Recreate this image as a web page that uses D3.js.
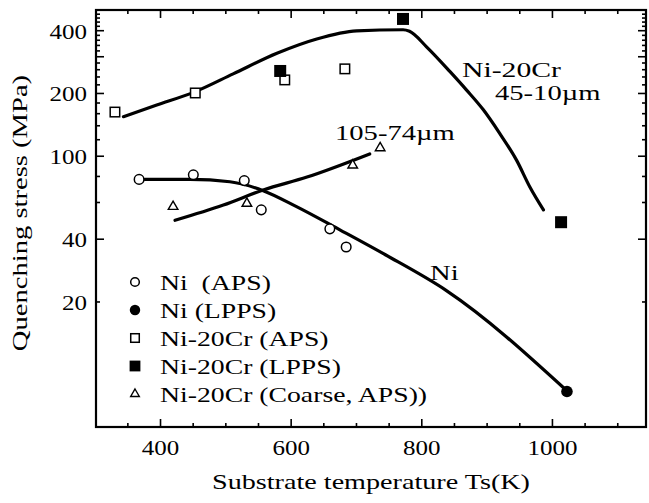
<!DOCTYPE html>
<html><head><meta charset="utf-8">
<script src="https://cdn.jsdelivr.net/npm/d3@7"></script>
<style>
body{margin:0;background:#fff}
svg{display:block}
text{font-family:"Liberation Serif","Times New Roman",serif;fill:#000}
</style>
</head><body>
<svg id="c" width="649" height="503"></svg>
<script>
// ---- data (temperature K, stress MPa) ----
const niAPS_T = [368, 451, 529, 555, 660, 685];
const niAPS_S = [77, 81, 76, 55, 44.6, 36.5];
const niLPPS_T = [1023];
const niLPPS_S = [7.4];
const crAPS_T = [331, 454, 591, 683];
const crAPS_S = [162, 200, 231, 261];
const crLPPS_T = [584, 772, 1014];
const crLPPS_S = [255, 453, 48];
const coarse_T = [420, 533, 695, 737];
const coarse_S = [57, 59, 90, 109];
// hand-drawn trend curves
const crFine_T = [344, 395, 454, 512, 579, 640, 701, 772, 782, 808, 844, 869, 895, 920, 946, 966, 987];
const crFine_S = [154, 175, 203, 247, 310, 363, 397, 402, 395, 333, 253, 207, 166, 128, 95, 71, 55];
const ni_T = [377, 446, 507, 558, 609, 676, 745, 839, 1022];
const ni_S = [77, 77, 75, 68, 57, 44, 33.5, 22.5, 7.5];
const coarseFit_T = [423, 497, 558, 625, 721];
const coarseFit_S = [49, 58, 68.5, 79, 102];
// ticks and labels
const xTickLabels = [400, 600, 800, 1000];
const yTickLabels = [20, 40, 100, 200, 400];
const yMajorTicks = [40, 100, 200, 300, 400];
const legendLabels = ["Ni  (APS)", "Ni (LPPS)", "Ni-20Cr (APS)", "Ni-20Cr (LPPS)", "Ni-20Cr (Coarse, APS))"];
const legendKinds = ["openCircle", "filledCircle", "openSquare", "filledSquare", "triangle"];
const xTitle = "Substrate temperature Ts(K)";
const yTitle = "Quenching stress (MPa)";

// ---- layout ----
const L = 96, R = 646, T = 10, B = 427;
const SX = 1.3;
const svg = d3.select("#c");
const x = d3.scaleLinear().domain([302, 1144]).range([L, R]);
const y = d3.scaleLog().domain([5, 500]).range([B, T]);

function txt(g, s, tx, ty, size, anchor, sx, rot) {
  return g.append("text")
    .attr("transform", `translate(${tx},${ty}) rotate(${rot || 0}) scale(${sx || SX},1)`)
    .attr("font-size", size)
    .attr("text-anchor", anchor || "start")
    .style("white-space", "pre")
    .text(s);
}

// ---- axes ticks (inward) ----
const xMinor = d3.range(350, 1101, 50).filter(v => !xTickLabels.includes(v));
const yMinor = d3.range(20, 481, 20).filter(v => !yMajorTicks.includes(v));

function styleAxis(g) {
  g.select(".domain").remove();
  g.selectAll("line").attr("stroke", "#000").attr("stroke-width", 1.6);
}
// bottom
svg.append("g").attr("transform", `translate(0,${B})`)
  .call(d3.axisTop(x).tickValues(xTickLabels).tickSize(8).tickSizeOuter(0).tickFormat("")).call(styleAxis);
svg.append("g").attr("transform", `translate(0,${B})`)
  .call(d3.axisTop(x).tickValues(xMinor).tickSize(4).tickSizeOuter(0).tickFormat("")).call(styleAxis);
// top
svg.append("g").attr("transform", `translate(0,${T})`)
  .call(d3.axisBottom(x).tickValues(xTickLabels).tickSize(8).tickSizeOuter(0).tickFormat("")).call(styleAxis);
svg.append("g").attr("transform", `translate(0,${T})`)
  .call(d3.axisBottom(x).tickValues(xMinor).tickSize(4).tickSizeOuter(0).tickFormat("")).call(styleAxis);
// left
svg.append("g").attr("transform", `translate(${L},0)`)
  .call(d3.axisRight(y).tickValues(yMajorTicks).tickSize(8).tickSizeOuter(0).tickFormat("")).call(styleAxis);
svg.append("g").attr("transform", `translate(${L},0)`)
  .call(d3.axisRight(y).tickValues(yMinor).tickSize(4).tickSizeOuter(0).tickFormat("")).call(styleAxis);
// right
svg.append("g").attr("transform", `translate(${R},0)`)
  .call(d3.axisLeft(y).tickValues(yMajorTicks).tickSize(8).tickSizeOuter(0).tickFormat("")).call(styleAxis);
svg.append("g").attr("transform", `translate(${R},0)`)
  .call(d3.axisLeft(y).tickValues(yMinor).tickSize(4).tickSizeOuter(0).tickFormat("")).call(styleAxis);

// tick labels
const xl = svg.append("g").attr("transform", `translate(0,${B})`)
  .call(d3.axisBottom(x).tickValues(xTickLabels).tickSize(0).tickFormat(d3.format("d")));
xl.select(".domain").remove();
xl.selectAll("text").attr("y", null).attr("dy", null)
  .attr("transform", "translate(0,28) scale(1.25,1)")
  .attr("font-size", 20).attr("font-family", '"Liberation Serif",serif');
const yl = svg.append("g").attr("transform", `translate(${L},0)`)
  .call(d3.axisLeft(y).tickValues(yTickLabels).tickSize(0).tickFormat(d3.format("d")));
yl.select(".domain").remove();
yl.selectAll("text").attr("x", null).attr("dy", "0.4em")
  .attr("transform", "translate(-9,0) scale(1.25,1)")
  .attr("font-size", 20).attr("font-family", '"Liberation Serif",serif');

// frame
svg.append("rect").attr("x", L).attr("y", T).attr("width", R - L).attr("height", B - T)
  .attr("fill", "none").attr("stroke", "#000").attr("stroke-width", 2.2);

// ---- curves ----
const line = d3.line().x(d => x(d[0])).y(d => y(d[1])).curve(d3.curveMonotoneX);
const curves = [
  d3.zip(crFine_T, crFine_S),
  d3.zip(ni_T, ni_S),
  d3.zip(coarseFit_T, coarseFit_S)
];
svg.append("g").selectAll("path").data(curves).join("path")
  .attr("d", line).attr("fill", "none").attr("stroke", "#000")
  .attr("stroke-width", 3.2).attr("stroke-linecap", "round").attr("stroke-linejoin", "round");

// ---- markers ----
function marker(g, kind, cx, cy, big) {
  const k = big ? 1 : 0.9;
  if (kind === "openCircle") {
    g.append("circle").attr("cx", cx).attr("cy", cy).attr("r", 4.8 * k)
      .attr("fill", "#fff").attr("stroke", "#000").attr("stroke-width", 1.5);
  } else if (kind === "filledCircle") {
    g.append("circle").attr("cx", cx).attr("cy", cy).attr("r", 5.8 * k).attr("fill", "#000");
  } else if (kind === "openSquare") {
    const s = 9.5 * k;
    g.append("rect").attr("x", cx - s / 2).attr("y", cy - s / 2).attr("width", s).attr("height", s)
      .attr("fill", "#fff").attr("stroke", "#000").attr("stroke-width", 1.5);
  } else if (kind === "filledSquare") {
    const s = 12 * k;
    g.append("rect").attr("x", cx - s / 2).attr("y", cy - s / 2).attr("width", s).attr("height", s)
      .attr("fill", "#000");
  } else {
    g.append("path").attr("transform", `translate(${cx},${cy})`)
      .attr("d", d3.symbol(d3.symbolTriangle, 40 * k * k)())
      .attr("fill", "#fff").attr("stroke", "#000").attr("stroke-width", 1.4);
  }
}
const pts = svg.append("g");
const sets = [
  ["openCircle", niAPS_T, niAPS_S],
  ["filledCircle", niLPPS_T, niLPPS_S],
  ["openSquare", crAPS_T, crAPS_S],
  ["filledSquare", crLPPS_T, crLPPS_S],
  ["triangle", coarse_T, coarse_S]
];
sets.forEach(([kind, ts, ss]) => ts.forEach((t, i) => marker(pts, kind, x(t), y(ss[i]), true)));

// ---- annotations ----
const ann = svg.append("g");
txt(ann, "Ni-20Cr", 462, 77, 22, "start", 1.35);
txt(ann, "45-10\u00b5m", 495, 100, 22, "start", 1.3);
txt(ann, "105-74\u00b5m", 335, 140, 22, "start", 1.3);
txt(ann, "Ni", 430, 280, 22, "start", 1.3);

// ---- legend ----
const leg = svg.append("g");
legendLabels.forEach((lab, i) => {
  const cy = 282 + i * 28;
  marker(leg, legendKinds[i], 135, cy, false);
  txt(leg, lab, 160, cy + 7.5, 22, "start", 1.26);
});

// ---- axis titles ----
txt(svg, xTitle, (L + R) / 2, 489, 22, "middle", 1.28);
txt(svg, yTitle, 27, 213, 22, "middle", 1.3, -90);
</script>
</body></html>
